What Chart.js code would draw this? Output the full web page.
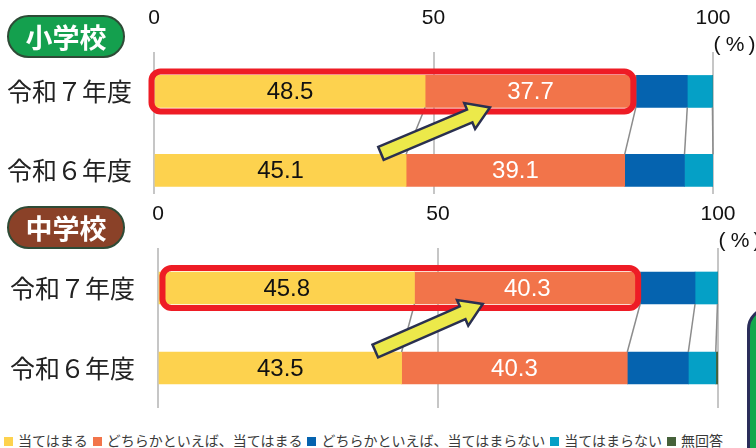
<!DOCTYPE html>
<html>
<head>
<meta charset="utf-8">
<script src="https://cdn.jsdelivr.net/npm/chart.js@4"></script>
<style>
  body { margin: 0; background: #fff; }
  #wrap { position: relative; width: 756px; height: 448px; overflow: hidden; font-family: "Noto Sans CJK JP", sans-serif; }
  canvas { position: absolute; left: 0; }
  .badge { position: absolute; left: 7px; width: 114px; height: 39px; border-radius: 22px; border: 2.5px solid #2e4b36;
           color: #fff; font-weight: bold; font-size: 27px; line-height: 39px; text-align: center; z-index: 2; }
  #side { position: absolute; left: 747px; top: 307px; width: 40px; height: 200px; border-radius: 22px;
          background: #13a84c; border: 3px solid #2a2d5a; }
  #legend { position: absolute; left: 3px; top: 430px; display: flex; font-size: 14px; line-height: 20px; color: #3a3a3a; white-space: nowrap; }
  #legend span.sw { display: inline-block; width: 9px; height: 9px; margin: 0 5px 0 1px; vertical-align: 0px; }
  #legend div { margin-right: 4px; }
</style>
</head>
<body>
<div id="wrap">
  <canvas id="elem" width="756" height="200" style="top:0"></canvas>
  <canvas id="junior" width="756" height="216" style="top:196px"></canvas>
  <div class="badge" style="top:15px;background:#14a04e;">小学校</div>
  <div class="badge" style="top:206px;background:#8a4128;">中学校</div>
  <div id="side"></div>
  <div id="legend"></div>
</div>
<script>
const years = ['令和７年度', '令和６年度'];
const categories = ['当てはまる', 'どちらかといえば、当てはまる', 'どちらかといえば、当てはまらない', '当てはまらない', '無回答'];
const colors = ['#fdd24e', '#f2744a', '#0563af', '#05a0c6', '#46613a'];
const xTicks = [0, 50, 100];

// each row: [令和7年度, 令和6年度]
const elemValues = [
  [48.5, 45.1],
  [37.7, 39.1],
  [9.2, 10.7],
  [4.5, 5.1],
  [0.1, 0.0]
];
const juniorValues = [
  [45.8, 43.5],
  [40.3, 40.3],
  [9.8, 10.9],
  [4.0, 4.9],
  [0.1, 0.4]
];

// legend
const legend = document.getElementById('legend');
categories.forEach((c, i) => {
  const d = document.createElement('div');
  d.innerHTML = '<span class="sw" style="background:' + colors[i] + '"></span>' + c;
  legend.appendChild(d);
});

function overlay(values, cfg) {
  return {
    id: 'overlay',
    afterDatasetsDraw(chart) {
      const ctx = chart.ctx;
      const xs = chart.scales.x;
      const b7 = chart.getDatasetMeta(0).data[0];
      const b6 = chart.getDatasetMeta(0).data[1];
      const y7t = b7.y - b7.height / 2, y7b = b7.y + b7.height / 2;
      const y6t = b6.y - b6.height / 2;
      ctx.save();

      // series lines between the two bars
      let c7 = 0, c6 = 0;
      ctx.strokeStyle = '#8c8c8c';
      ctx.lineWidth = 1.5;
      for (let i = 0; i < values.length - 1; i++) {
        c7 += values[i][0];
        c6 += values[i][1];
        ctx.beginPath();
        ctx.moveTo(xs.getPixelForValue(c7), y7b);
        ctx.lineTo(xs.getPixelForValue(c6), y6t);
        ctx.stroke();
      }

      // value labels on the first two segments
      ctx.font = '24px "Liberation Sans", Arial, sans-serif';
      ctx.textAlign = 'center';
      ctx.textBaseline = 'middle';
      for (let i = 0; i < 2; i++) {
        chart.getDatasetMeta(i).data.forEach((bar, j) => {
          ctx.fillStyle = i === 0 ? '#111' : '#fff';
          ctx.fillText(values[i][j].toFixed(1), (bar.x + bar.base) / 2, bar.y + 1);
        });
      }

      // red highlight box
      const x0 = xs.getPixelForValue(0) + cfg.boxL;
      const x1 = xs.getPixelForValue(values[0][0] + values[1][0]) + cfg.boxR;
      ctx.strokeStyle = '#ee1c25';
      ctx.lineWidth = 6;
      ctx.beginPath();
      ctx.roundRect(x0, y7t - 4, x1 - x0, (y7b - y7t) + 8, 9);
      ctx.stroke();

      // arrow
      const tx = xs.getPixelForValue(cfg.arrow[0]), ty = y6t - 1;
      const hx = xs.getPixelForValue(cfg.arrow[1]), hy = y7b;
      const len = Math.hypot(hx - tx, hy - ty);
      const ux = (hx - tx) / len, uy = (hy - ty) / len;
      const px = -uy, py = ux;
      const sw = 7, hw = 14, hl = 22;
      const bx = hx - ux * hl, by = hy - uy * hl;
      ctx.beginPath();
      ctx.moveTo(tx + px * sw, ty + py * sw);
      ctx.lineTo(bx + px * sw, by + py * sw);
      ctx.lineTo(bx + px * hw, by + py * hw);
      ctx.lineTo(hx, hy);
      ctx.lineTo(bx - px * hw, by - py * hw);
      ctx.lineTo(bx - px * sw, by - py * sw);
      ctx.lineTo(tx - px * sw, ty - py * sw);
      ctx.closePath();
      ctx.fillStyle = '#ece94a';
      ctx.fill();
      ctx.strokeStyle = '#2a3050';
      ctx.lineWidth = 2.5;
      ctx.lineJoin = 'miter';
      ctx.stroke();

      // (%) under 100
      const p = xs.getPixelForValue(100);
      const py0 = chart.chartArea.top - 7;
      ctx.font = '21px "Liberation Sans", Arial, sans-serif';
      ctx.fillStyle = '#111';
      ctx.textAlign = 'center';
      ctx.fillText('(', p + 4, py0);
      ctx.fillText('%', p + 22, py0);
      ctx.fillText(')', p + 39, py0);
      ctx.restore();
    }
  };
}

function makeChart(id, values, cfg) {
  new Chart(document.getElementById(id), {
    type: 'bar',
    data: {
      datasets: categories.map((c, i) => ({
        label: c,
        data: values[i].map((v, j) => ({ x: v, y: j })),
        backgroundColor: colors[i],
        borderWidth: 0,
        grouped: false,
        barThickness: 32
      }))
    },
    options: {
      indexAxis: 'y',
      responsive: false,
      animation: false,
      layout: { padding: { left: 0, right: cfg.right, top: 0, bottom: cfg.bottom } },
      plugins: { legend: { display: false }, tooltip: { enabled: false } },
      scales: {
        x: {
          position: 'top',
          min: 0, max: 100,
          stacked: true,
          afterBuildTicks: s => { s.ticks = xTicks.map(v => ({ value: v })); },
          afterFit: s => { s.height = 52; s.paddingLeft = 0; s.paddingRight = 0; },
          ticks: { color: '#111', padding: 21, maxRotation: 0, font: { size: 21, family: '"Liberation Sans", Arial, sans-serif' } },
          grid: { color: '#c6c6c6', lineWidth: 2, drawTicks: false },
          border: { display: false }
        },
        y: {
          type: 'linear',
          reverse: true,
          offset: false,
          min: -0.5, max: cfg.ymax,
          afterBuildTicks: s => { s.ticks = years.map((y, j) => ({ value: j })); },
          afterFit: s => { s.width = cfg.left; s.paddingTop = 0; s.paddingBottom = 0; },
          ticks: { color: '#222', padding: cfg.labelPad, callback: v => years[v], font: { size: 25, family: '"Noto Sans CJK JP", sans-serif' } },
          grid: { display: false, drawTicks: false },
          border: { display: false }
        }
      }
    },
    plugins: [overlay(values, cfg)]
  });
}

makeChart('elem', elemValues, { left: 154, right: 43, bottom: 6, ymax: 1.3, labelPad: 22, boxL: -2.5, boxR: -2.5, arrow: [40.6, 60.1] });
makeChart('junior', juniorValues, { left: 158, right: 38, bottom: 4, ymax: 1.5, labelPad: 23, boxL: 4.5, boxR: -2, arrow: [38.8, 58] });
</script>
</body>
</html>
